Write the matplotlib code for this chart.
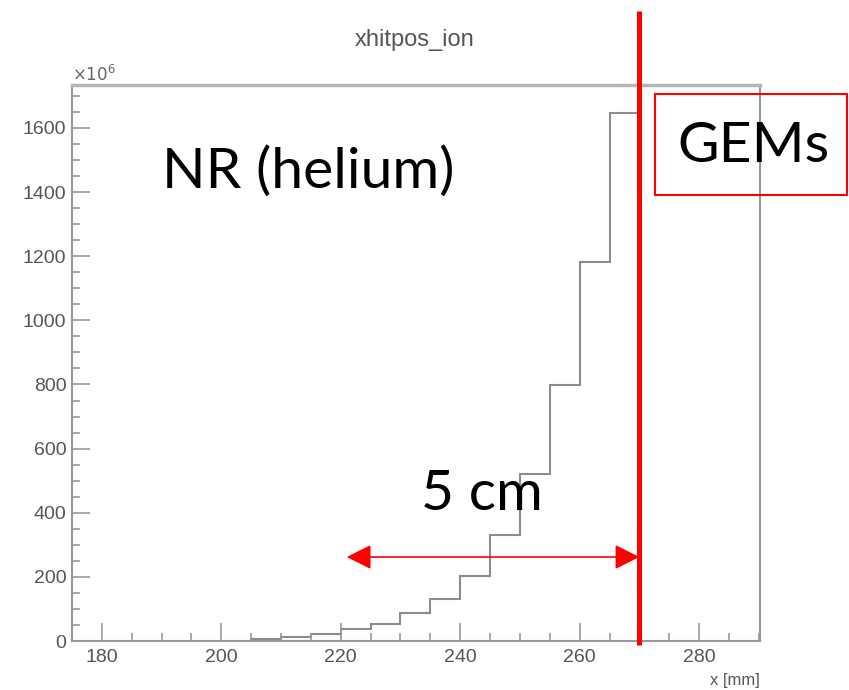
import numpy as np
import matplotlib
matplotlib.use("Agg")
import matplotlib.pyplot as plt
from matplotlib.patches import Rectangle
from matplotlib.ticker import MultipleLocator

# histogram of ion hit position, counts in units of 1e6, 5 mm bins
bin_edges = [205, 210, 215, 220, 225, 230, 235, 240, 245, 250, 255, 260, 265, 270]
counts = [5, 12, 21, 36, 54, 86, 130, 203, 332, 520, 797, 1182, 1648]

gem_x = 270
arrow_start = 221
arrow_y = 262

plt.rcParams["font.family"] = ["Liberation Sans", "DejaVu Sans"]

fig = plt.figure(figsize=(8.49, 6.90), dpi=100)
ax = fig.add_axes([0.0848, 0.0710, 0.8104, 0.8058])

grey = "#8c8c8c"
ax.stairs(counts, bin_edges, color=grey, linewidth=1.5)
ax.set_xlim(175, 290.2)
ax.set_ylim(0, 1734)

for side in ["left", "bottom", "right"]:
    ax.spines[side].set_color("#999999")
    ax.spines[side].set_linewidth(1.5)
ax.spines["top"].set_color("#b5b5b5")
ax.spines["top"].set_linewidth(2.5)

ax.xaxis.set_major_locator(MultipleLocator(20))
ax.xaxis.set_minor_locator(MultipleLocator(5))
ax.yaxis.set_major_locator(MultipleLocator(200))
ax.yaxis.set_minor_locator(MultipleLocator(50))
ax.tick_params(which="both", direction="in", colors="#999999", labelcolor="#555555",
               labelsize=14, top=False, right=False)
ax.tick_params(which="major", length=13, width=1.2)
ax.tick_params(which="minor", length=6, width=1.2)
ax.tick_params(axis="y", pad=4)
ax.tick_params(axis="x", pad=6)

fig.text(415 / 849, 1 - 40 / 690, "xhitpos_ion", ha="center", va="center",
         fontsize=17, color="#555555")
fig.text(72 / 849, 1 - 74 / 690, r"$\times10^{6}$", ha="left", va="center",
         fontsize=12, color="#666666")
fig.text(760 / 849, 1 - 680 / 690, "x [mm]", ha="right", va="center",
         fontsize=12, color="#555555")

# GEM plane
ax.plot([gem_x, gem_x], [-12, 1965], color="#ff0000", linewidth=3.6,
        clip_on=False, solid_capstyle="butt", zorder=5)
ax.annotate("", xy=(gem_x, arrow_y), xytext=(arrow_start, arrow_y),
            arrowprops=dict(arrowstyle="<|-|>", color="#ff0000", lw=1.2,
                            mutation_scale=38, shrinkA=0, shrinkB=0))

big = dict(family=["Lato", "DejaVu Sans"], fontsize=41, color="black")
fig.text(308 / 849, 1 - 172 / 690, "NR (helium)", ha="center", va="center", **big)
fig.text(482 / 849, 1 - 495 / 690, "5 cm", ha="center", va="center", **big)
fig.text(754 / 849, 1 - 147 / 690, "GEMs", ha="center", va="center", **big)

fig.patches.append(Rectangle((655 / 849, 1 - 195 / 690), 192 / 849, 101 / 690,
                             transform=fig.transFigure, fill=False,
                             edgecolor="#ff0000", linewidth=1.5))

fig.savefig("out.png", dpi=100)
